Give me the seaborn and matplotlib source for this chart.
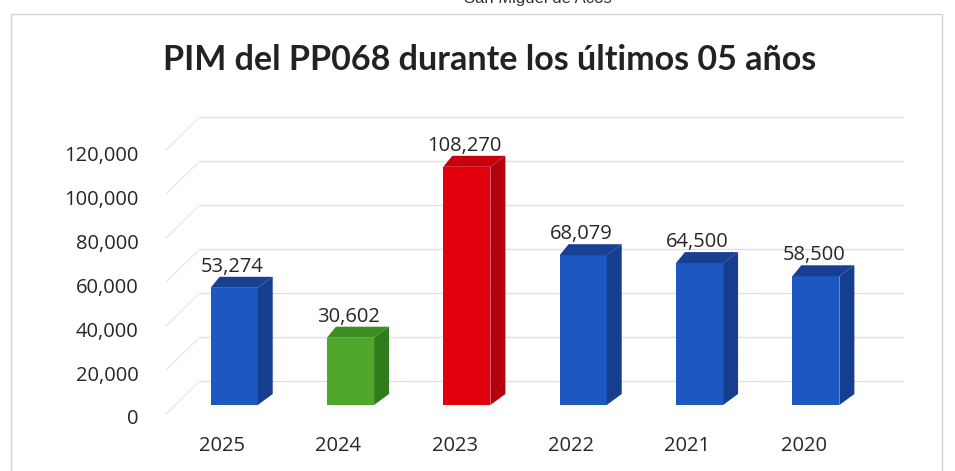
import matplotlib
matplotlib.use("Agg")
import matplotlib.pyplot as plt
from matplotlib.patches import Polygon, Rectangle
from matplotlib.transforms import ScaledTranslation
import seaborn as sns
import pandas as pd

# PIM per year
years = ["2025", "2024", "2023", "2022", "2021", "2020"]
pim = [53274, 30602, 108270, 68079, 64500, 58500]
y_ticks = [0, 20000, 40000, 60000, 80000, 100000, 120000]
y_tick_labels = ["0", "20,000", "40,000", "60,000", "80,000", "100,000", "120,000"]

# face colours (front / side / top) per bar
front_cols = ["#1d58c2", "#4fa62a", "#e2000f", "#1d58c2", "#1d58c2", "#1d58c2"]
side_cols = ["#163e8e", "#2f7d1a", "#b3000d", "#163e8e", "#163e8e", "#163e8e"]
top_cols = ["#173f92", "#3a8e22", "#c8000e", "#173f92", "#173f92", "#173f92"]

sns.set_style("white")
plt.rcParams["font.family"] = ["Open Sans", "DejaVu Sans"]

W, H, DPI = 955, 471, 100
fig = plt.figure(figsize=(W / DPI, H / DPI), dpi=DPI)
fig.patch.set_facecolor("white")

# axes laid out in pixels: front floor at y=405, 2.2 px per 1000
ax_left, ax_bottom_px, ax_w, ax_h = 176, 405, 698, 286
ax = fig.add_axes([ax_left / W, (H - ax_bottom_px) / H, ax_w / W, ax_h / H])
ax.set_facecolor("none")

df = pd.DataFrame({"year": years, "pim": pim})
sns.barplot(data=df, x="year", y="pim", hue="year",
            palette=dict(zip(years, front_cols)), order=years, hue_order=years,
            width=0.405, saturation=1, legend=False, ax=ax, zorder=3,
            linewidth=0, edgecolor="none")

ymax = 130000
ax.set_xlim(-0.5, len(years) - 0.5)
ax.set_ylim(0, ymax)
xpp = len(years) / ax_w       # data units per pixel (x)
ypp = ymax / ax_h             # data units per pixel (y)

# 3D depth of each bar
ddx, ddy = 15 * xpp, 11 * ypp
for p in ax.patches[:]:
    x0 = p.get_x()
    x1 = x0 + p.get_width()
    h = p.get_height()
    i = int(round(x0 + p.get_width() / 2))
    side = Polygon([(x1, 0), (x1, h), (x1 + ddx, h + ddy), (x1 + ddx, ddy)],
                   closed=True, facecolor=side_cols[i], edgecolor="none", zorder=3)
    top = Polygon([(x0, h), (x1, h), (x1 + ddx, h + ddy), (x0 + ddx * 0.6, h + ddy)],
                  closed=True, facecolor=top_cols[i], edgecolor="none", zorder=3)
    ax.add_patch(side)
    ax.add_patch(top)
    ax.annotate(f"{pim[i]:,}", xy=(i, h), xytext=(-2, 16), textcoords="offset pixels",
                ha="center", va="baseline", fontsize=14.5, color="#262626",
                zorder=5)

# back wall gridlines and floor-to-wall diagonals
back_shift = 24 * ypp
wall_x0 = (200 - ax_left) * xpp - 0.5
wall_x1 = (903 - ax_left) * xpp - 0.5
diag_x = (166 - ax_left) * xpp - 0.5
for v in y_ticks:
    ax.plot([wall_x0, wall_x1], [v + back_shift, v + back_shift],
            color="#dde0e4", lw=1.0, zorder=1, clip_on=False)
    ax.plot([diag_x, wall_x0], [v - 9 * ypp, v + back_shift],
            color="#e6e8eb", lw=1.0, zorder=1, clip_on=False)

# axis ticks and labels
ax.set_yticks(y_ticks)
ax.set_yticklabels(y_tick_labels, fontsize=14.5, color="#262626")
ax.tick_params(axis="y", length=0, pad=27)
for lab in ax.get_yticklabels():
    lab.set_transform(lab.get_transform() + ScaledTranslation(0, -12 / DPI, fig.dpi_scale_trans))
ax.tick_params(axis="x", length=0, pad=22, labelsize=14.5, labelcolor="#262626")
for lab in ax.get_xticklabels():
    lab.set_transform(lab.get_transform() + ScaledTranslation(-12 / DPI, 0, fig.dpi_scale_trans))
ax.set_xlabel("")
ax.set_ylabel("")
for s in ax.spines.values():
    s.set_visible(False)
ax.grid(False)

# chart frame
fig.add_artist(Rectangle((11 / W, -0.05), (942 - 11) / W, (H - 14) / H + 0.05,
                         transform=fig.transFigure, fill=False,
                         edgecolor="#d4d4d4", lw=1.0))

# title and header
fig.text(490 / W, (H - 60) / H, "PIM del PP068 durante los últimos 05 años",
         ha="center", va="center", fontsize=24.5, fontweight="bold", color="#222222",
         family=["Lato", "DejaVu Sans"])
fig.text(538 / W, (H - 3) / H, "San Miguel de Acos",
         ha="center", va="baseline", fontsize=12, color="#333333",
         family=["Liberation Sans", "DejaVu Sans"])

fig.savefig("out.png", dpi=DPI)
